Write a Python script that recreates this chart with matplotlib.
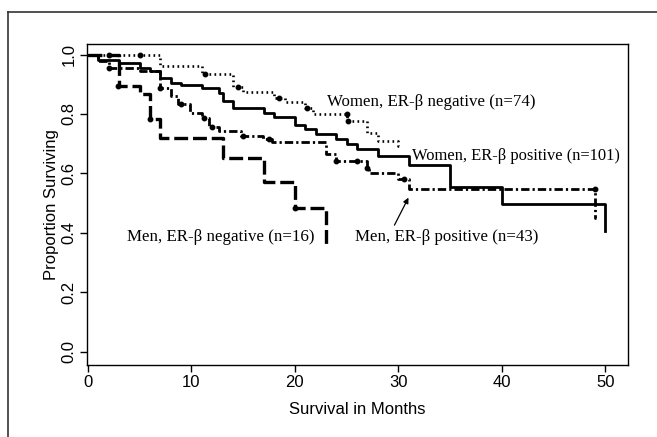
import matplotlib
matplotlib.use("Agg")
import matplotlib.pyplot as plt
from matplotlib.lines import Line2D

plt.rcParams['lines.scale_dashes'] = False
plt.rcParams['font.family'] = ['Liberation Sans', 'DejaVu Sans']

# ---- data ----
# Women, ER-beta negative (n=74) - dotted
wn_t = [0, 7, 11, 14, 15, 18, 19, 21, 21.7, 25, 27, 28, 30, 30.3]
wn_s = [1.0, 0.961, 0.935, 0.89, 0.875, 0.853, 0.84, 0.82, 0.80, 0.776, 0.737, 0.709, 0.692, 0.692]
wn_ct = [2, 5, 11.3, 14.5, 18.5, 21.2, 25, 25.1]
wn_cs = [1.0, 1.0, 0.935, 0.89, 0.853, 0.82, 0.80, 0.776]

# Women, ER-beta positive (n=101) - solid
wp_t = [0, 1, 3, 5, 6, 7, 8, 9, 11, 12.7, 13, 14, 17, 18, 20, 21, 22, 24, 25, 26, 28, 31, 35, 40, 50, 50]
wp_s = [1.0, 0.98, 0.97, 0.955, 0.945, 0.92, 0.905, 0.897, 0.887, 0.871, 0.843, 0.821, 0.804,
        0.791, 0.763, 0.749, 0.732, 0.717, 0.70, 0.682, 0.659, 0.629, 0.553, 0.497, 0.405, 0.405]

# Men, ER-beta positive (n=43) - dash-dot
mp_t = [0, 1, 2, 5, 7, 8, 8.7, 9.9, 11, 11.7, 12.7, 14.8, 16.9, 17.8, 23, 24, 27, 27.2, 30, 31, 49, 49.1]
mp_s = [1.0, 0.977, 0.955, 0.945, 0.888, 0.86, 0.832, 0.804, 0.785, 0.756, 0.743, 0.726, 0.717,
        0.706, 0.667, 0.642, 0.62, 0.603, 0.58, 0.547, 0.45, 0.45]
mp_ct = [2, 7, 9, 11.2, 12, 15, 17.5, 24, 26, 27, 30.5, 49]
mp_cs = [0.955, 0.888, 0.832, 0.785, 0.756, 0.726, 0.717, 0.642, 0.642, 0.62, 0.58, 0.547]

# Men, ER-beta negative (n=16) - long dashes
mn_t = [0, 3, 5, 6, 7, 13, 17, 20, 23, 23]
mn_s = [1.0, 0.894, 0.866, 0.782, 0.72, 0.651, 0.572, 0.483, 0.363, 0.363]
mn_ct = [2.9, 6, 20]
mn_cs = [0.894, 0.782, 0.483]

labels = ["Women, ER-\u03b2 negative (n=74)", "Women, ER-\u03b2 positive (n=101)",
          "Men, ER-\u03b2 negative (n=16)", "Men, ER-\u03b2 positive (n=43)"]
xticks = [0, 10, 20, 30, 40, 50]
yticks = [0.0, 0.2, 0.4, 0.6, 0.8, 1.0]

# ---- figure ----
fig = plt.figure(figsize=(6.57, 4.37), dpi=100)
ax = fig.add_axes([87/657, 1-365/437, (628-87)/657, (365-43.5)/437])

lw = 2.0
ax.step(wn_t, wn_s, where='post', color='black', lw=1.9, linestyle=(0, (1.2, 2.4)))
ax.step(wp_t, wp_s, where='post', color='black', lw=lw, linestyle='-')
ax.step(mp_t, mp_s, where='post', color='black', lw=lw, linestyle=(0, (6, 2.2, 1.6, 2.2)))
ax.step(mn_t, mn_s, where='post', color='black', lw=2.4, linestyle=(0, (10, 3.5)))

for ct, cs in [(wn_ct, wn_cs), (mp_ct, mp_cs), (mn_ct, mn_cs)]:
    ax.plot(ct, cs, 'o', color='black', ms=3.2, linestyle='none')

ax.set_xlim(-0.1, 52.2)
ax.set_ylim(-0.044, 1.037)
ax.set_xticks(xticks)
ax.set_xticklabels([str(v) for v in xticks])
ax.set_yticks(yticks)
ax.set_yticklabels([f"{v:.1f}" for v in yticks], rotation=90, va='center')
ax.tick_params(direction='out', length=5, width=1, labelsize=12, pad=2.5, color='black')
for sp in ax.spines.values():
    sp.set_linewidth(1.0)

ax.set_xlabel("Survival in Months", fontsize=12, labelpad=8)
ax.set_ylabel("Proportion Surviving", fontsize=12, labelpad=2)

serif = ['Liberation Serif', 'DejaVu Serif']
fs = 12.2
ax.text(23.1, 0.839, labels[0], family=serif, fontsize=fs, va='center', ha='left')
ax.text(31.3, 0.659, labels[1], family=serif, fontsize=11.9, va='center', ha='left')
ax.text(3.8, 0.386, labels[2], family=serif, fontsize=fs, va='center', ha='left')
ax.text(25.8, 0.386, labels[3], family=serif, fontsize=fs, va='center', ha='left')
ax.annotate("", xy=(31.1, 0.527), xytext=(29.5, 0.418),
            arrowprops=dict(arrowstyle='-|>', color='black', lw=0.9, mutation_scale=8))

# outer frame (top and left only, as in the picture)
fig.add_artist(Line2D([8/657, 8/657], [0, 1-12/437], transform=fig.transFigure, color='#333333', lw=1.2))
fig.add_artist(Line2D([8/657, 1], [1-12/437, 1-12/437], transform=fig.transFigure, color='#333333', lw=1.2))

fig.savefig("out.png", dpi=100)
